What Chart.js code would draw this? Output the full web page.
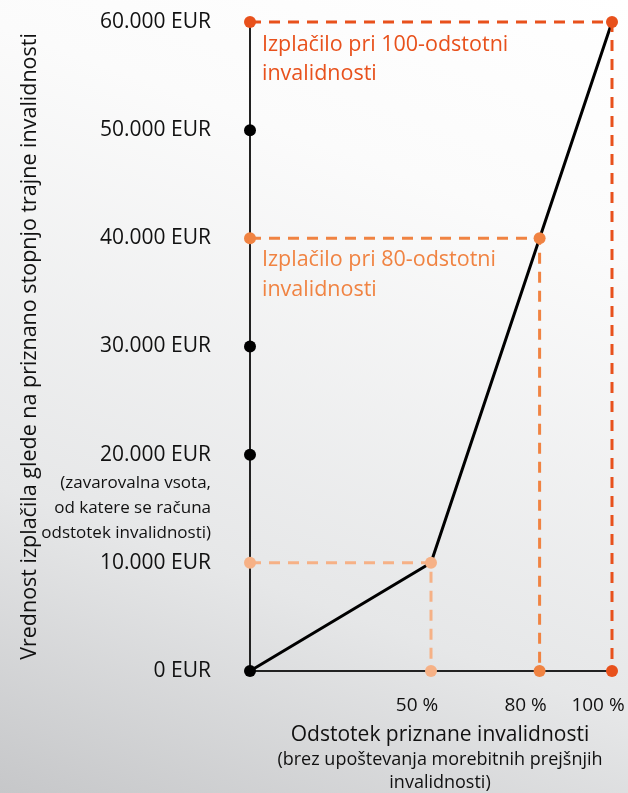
<!DOCTYPE html>
<html>
<head>
<meta charset="utf-8">
<script src="https://cdn.jsdelivr.net/npm/chart.js@4"></script>
<style>
  html, body {
    margin: 0;
    padding: 0;
  }
  body {
    width: 628px;
    height: 793px;
    background: linear-gradient(200deg, #ffffff 0%, #fbfbfb 25%, #e6e7e8 70%, #c6c7c9 100%);
  }
  #wrap {
    position: relative;
    width: 628px;
    height: 793px;
  }
</style>
</head>
<body>
<div id="wrap"><canvas id="chart"></canvas></div>
<script>
// ---- data ----
const payoutPercents = [0, 50, 80, 100];
const payoutValues = [0, 10000, 40000, 60000];

const yTicks = [0, 10000, 20000, 30000, 40000, 50000, 60000];
const xTickPercents = [50, 80, 100];
const axisDotValues = [0, 20000, 30000, 50000];

const yTitle = 'Vrednost izplačila glede na priznano stopnjo trajne invalidnosti';
const xTitle = 'Odstotek priznane invalidnosti';
const xSubtitle = ['(brez upoštevanja morebitnih prejšnjih', 'invalidnosti)'];
const sumNote = ['(zavarovalna vsota,', 'od katere se računa', 'odstotek invalidnosti)'];
const noteValue = 20000;

const guideLabels = [
  ['Izplačilo pri 100-odstotni', 'invalidnosti'],
  ['Izplačilo pri 80-odstotni', 'invalidnosti']
];

const DARK = '#e8511c';
const MID = '#f08342';
const LIGHT = '#f6b186';
const FONT = '"Open Sans", "Noto Sans", sans-serif';

function eur(v) {
  return String(v).replace(/\B(?=(\d{3})+(?!\d))/g, '.') + ' EUR';
}

// dashed guide: axis -> point -> axis
function guide(i, color) {
  return {
    data: [
      { x: 0, y: payoutValues[i] },
      { x: payoutPercents[i], y: payoutValues[i] },
      { x: payoutPercents[i], y: 0 }
    ],
    showLine: true,
    borderColor: color,
    borderWidth: 3,
    borderDash: [11, 8],
    pointRadius: 6,
    pointBackgroundColor: color,
    pointBorderWidth: 0,
    clip: false,
    order: 2
  };
}

// texts that are not axis ticks
const extraText = {
  id: 'extraText',
  afterDraw(chart) {
    const c = chart.ctx;
    const y = chart.scales.y;
    c.save();
    c.textBaseline = 'middle';

    // note under 20.000 EUR
    c.fillStyle = '#111';
    c.textAlign = 'right';
    c.font = '17px ' + FONT;
    const ny = y.getPixelForValue(noteValue);
    sumNote.forEach((t, k) => c.fillText(t, 211, ny + 28 + k * 25));

    // guide captions
    c.textAlign = 'left';
    c.font = '21.5px ' + FONT;
    c.fillStyle = DARK;
    const y100 = y.getPixelForValue(payoutValues[3]);
    guideLabels[0].forEach((t, k) => c.fillText(t, 262, y100 + 23 + k * 29));
    c.fillStyle = MID;
    const y80 = y.getPixelForValue(payoutValues[2]);
    guideLabels[1].forEach((t, k) => c.fillText(t, 262, y80 + 22 + k * 30));

    // x axis title
    c.fillStyle = '#111';
    c.textAlign = 'center';
    c.font = '21px ' + FONT;
    c.fillText(xTitle, 440, 735);
    c.font = '18px ' + FONT;
    xSubtitle.forEach((t, k) => c.fillText(t, 440, 760 + k * 23));
    c.restore();
  }
};

new Chart(document.getElementById('chart'), {
  type: 'scatter',
  data: {
    datasets: [
      {
        data: payoutPercents.map((p, i) => ({ x: p, y: payoutValues[i] })),
        showLine: true,
        borderColor: '#000',
        borderWidth: 3,
        pointRadius: 0,
        clip: false,
        order: 5
      },
      guide(3, DARK),
      guide(2, MID),
      guide(1, LIGHT),
      {
        data: axisDotValues.map(v => ({ x: 0, y: v })),
        showLine: false,
        pointRadius: 6,
        pointBackgroundColor: '#000',
        pointBorderWidth: 0,
        clip: false,
        order: 0
      }
    ]
  },
  options: {
    responsive: true,
    maintainAspectRatio: false,
    animation: false,
    layout: {
      padding: { top: 22, right: 16, left: 0, bottom: 0 }
    },
    plugins: {
      legend: { display: false },
      tooltip: { enabled: false }
    },
    scales: {
      x: {
        type: 'linear',
        min: 0,
        max: 100,
        grid: { display: false },
        border: { display: true, color: '#222', width: 2 },
        afterBuildTicks: s => { s.ticks = xTickPercents.map(v => ({ value: v })); },
        afterFit: s => {
          s.height = 122;
          s.paddingLeft = 0;
          s.paddingRight = 0;
        },
        ticks: {
          autoSkip: false,
          maxRotation: 0,
          labelOffset: -14,
          padding: 15,
          color: '#111',
          font: { family: FONT, size: 19 },
          callback: v => v + ' %'
        }
      },
      y: {
        type: 'linear',
        min: 0,
        max: 60000,
        grid: { display: false },
        border: { display: true, color: '#222', width: 2 },
        afterBuildTicks: s => { s.ticks = yTicks.map(v => ({ value: v })); },
        afterFit: s => {
          s.width = 250;
          s.paddingTop = 0;
          s.paddingBottom = 0;
        },
        title: {
          display: true,
          text: yTitle,
          color: '#111',
          font: { family: FONT, size: 21.5 },
          padding: { top: 17, bottom: 0 }
        },
        ticks: {
          padding: 31,
          color: '#111',
          font: { family: FONT, size: 21 },
          callback: v => eur(v)
        }
      }
    }
  },
  plugins: [extraText]
});
</script>
</body>
</html>
